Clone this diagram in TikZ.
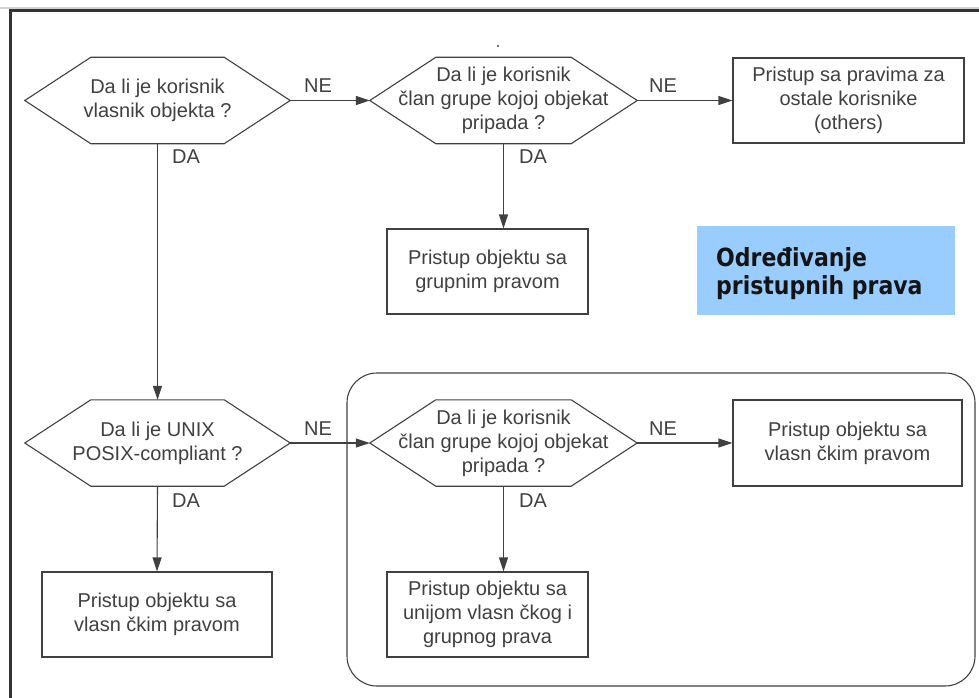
\documentclass[tikz,border=0pt]{standalone}
\usepackage{fontspec}
\setmainfont{Liberation Sans}
\newfontfamily\titlefont[FakeStretch=0.88]{DejaVu Sans}
\usetikzlibrary{arrows.meta,calc}
\definecolor{ink}{HTML}{404040}
\definecolor{framecol}{HTML}{333333}
\definecolor{sky}{RGB}{153,204,255}
\tikzset{
  every node/.style={font=\fontsize{20}{24}\selectfont, text=ink},
  hexnode/.style={minimum height=86pt, inner sep=0pt, align=center},
  hexline/.style={draw=ink, line width=1.1pt, line join=miter},
  box/.style={draw=ink, line width=1.1pt, inner sep=0pt, align=center, minimum height=85pt},
  arr/.style={draw=ink, line width=1.1pt, -{Triangle[length=14pt,width=9pt]}},
  lab/.style={inner sep=0pt},
}
\newcommand\myhex[1]{\draw[hexline] (#1.west) -- ([xshift=66pt]#1.north west) -- ([xshift=-66pt]#1.north east) -- (#1.east) -- ([xshift=-66pt]#1.south east) -- ([xshift=66pt]#1.south west) -- cycle;}
\begin{document}
\begin{tikzpicture}[x=1pt,y=-1pt]
\useasboundingbox (0,0) rectangle (979,698);
% frame
\draw[gray!35, line width=1.5pt] (0,8) -- (979,8);
\draw[framecol, line width=3pt] (10,698) -- (10,11) -- (979,11);
% stray dot
\fill[ink] (498,46) circle (1.1pt);
% group frame
\node[draw=ink, line width=1.1pt, rounded corners=30pt, minimum width=628pt, minimum height=313pt] (grp) at (661,529.5) {};
% decisions
\node[hexnode, minimum width=265pt] (h1) at (157.5,100.5) {Da li je korisnik\\vlasnik objekta ?};
\node[hexnode, minimum width=267pt] (h2) at (503.5,100.5) {Da li je korisnik\\član grupe kojoj objekat\\pripada ?};
\node[hexnode, minimum width=265pt] (h3) at (157.5,443) {Da li je UNIX\\POSIX-compliant ?};
\node[hexnode, minimum width=267pt] (h4) at (503.5,443) {Da li je korisnik\\član grupe kojoj objekat\\pripada ?};
\myhex{h1}\myhex{h2}\myhex{h3}\myhex{h4}
% result boxes
\node[box, minimum width=231pt] (b1) at (848.5,100.5) {Pristup sa pravima za\\ostale korisnike\\(others)};
\node[box, minimum width=201pt] (b2) at (487.5,271.5) {Pristup objektu sa\\grupnim pravom};
\node[box, minimum width=229pt, minimum height=86pt] (b3) at (847.5,443) {Pristup objektu sa\\vlasn čkim pravom};
\node[box, minimum width=201pt] (b4) at (487.5,614.5) {Pristup objektu sa\\unijom vlasn čkog i\\grupnog prava};
\node[box, minimum width=230pt] (b5) at (157,614.5) {Pristup objektu sa\\vlasn čkim pravom};
% title
\node[fill=sky, minimum width=258pt, minimum height=89pt, inner sep=0pt] (titlebox) at (826,270.5) {};
\node[anchor=west, align=left, inner sep=0pt, text=black!92, font=\titlefont\bfseries\fontsize{25}{28}\selectfont] (title) at (716,274) {Određivanje\\pristupnih prava};
% connectors
\draw[arr] (h1.east) -- (h2.west);
\draw[arr] (h2.east) -- (b1.west);
\draw[arr] (h2.south) -- (h2.south |- b2.north);
\draw[arr] (h1.south) -- (h3.north);
\draw[arr] (h3.east) -- (h4.west);
\draw[arr] (h4.east) -- (b3.west);
\draw[arr] (h4.south) -- (h4.south |- b4.north);
\draw[arr] (h3.south) -- (b5.north);
% labels
\node[lab] (ne1) at (318,86) {NE};
\node[lab] (ne2) at (663,86) {NE};
\node[lab] (ne3) at (318,429) {NE};
\node[lab] (ne4) at (663,429) {NE};
\node[lab] (da1) at (186,157) {DA};
\node[lab] (da2) at (533,157) {DA};
\node[lab] (da3) at (186,501) {DA};
\node[lab] (da4) at (533,501) {DA};
\end{tikzpicture}
\end{document}
